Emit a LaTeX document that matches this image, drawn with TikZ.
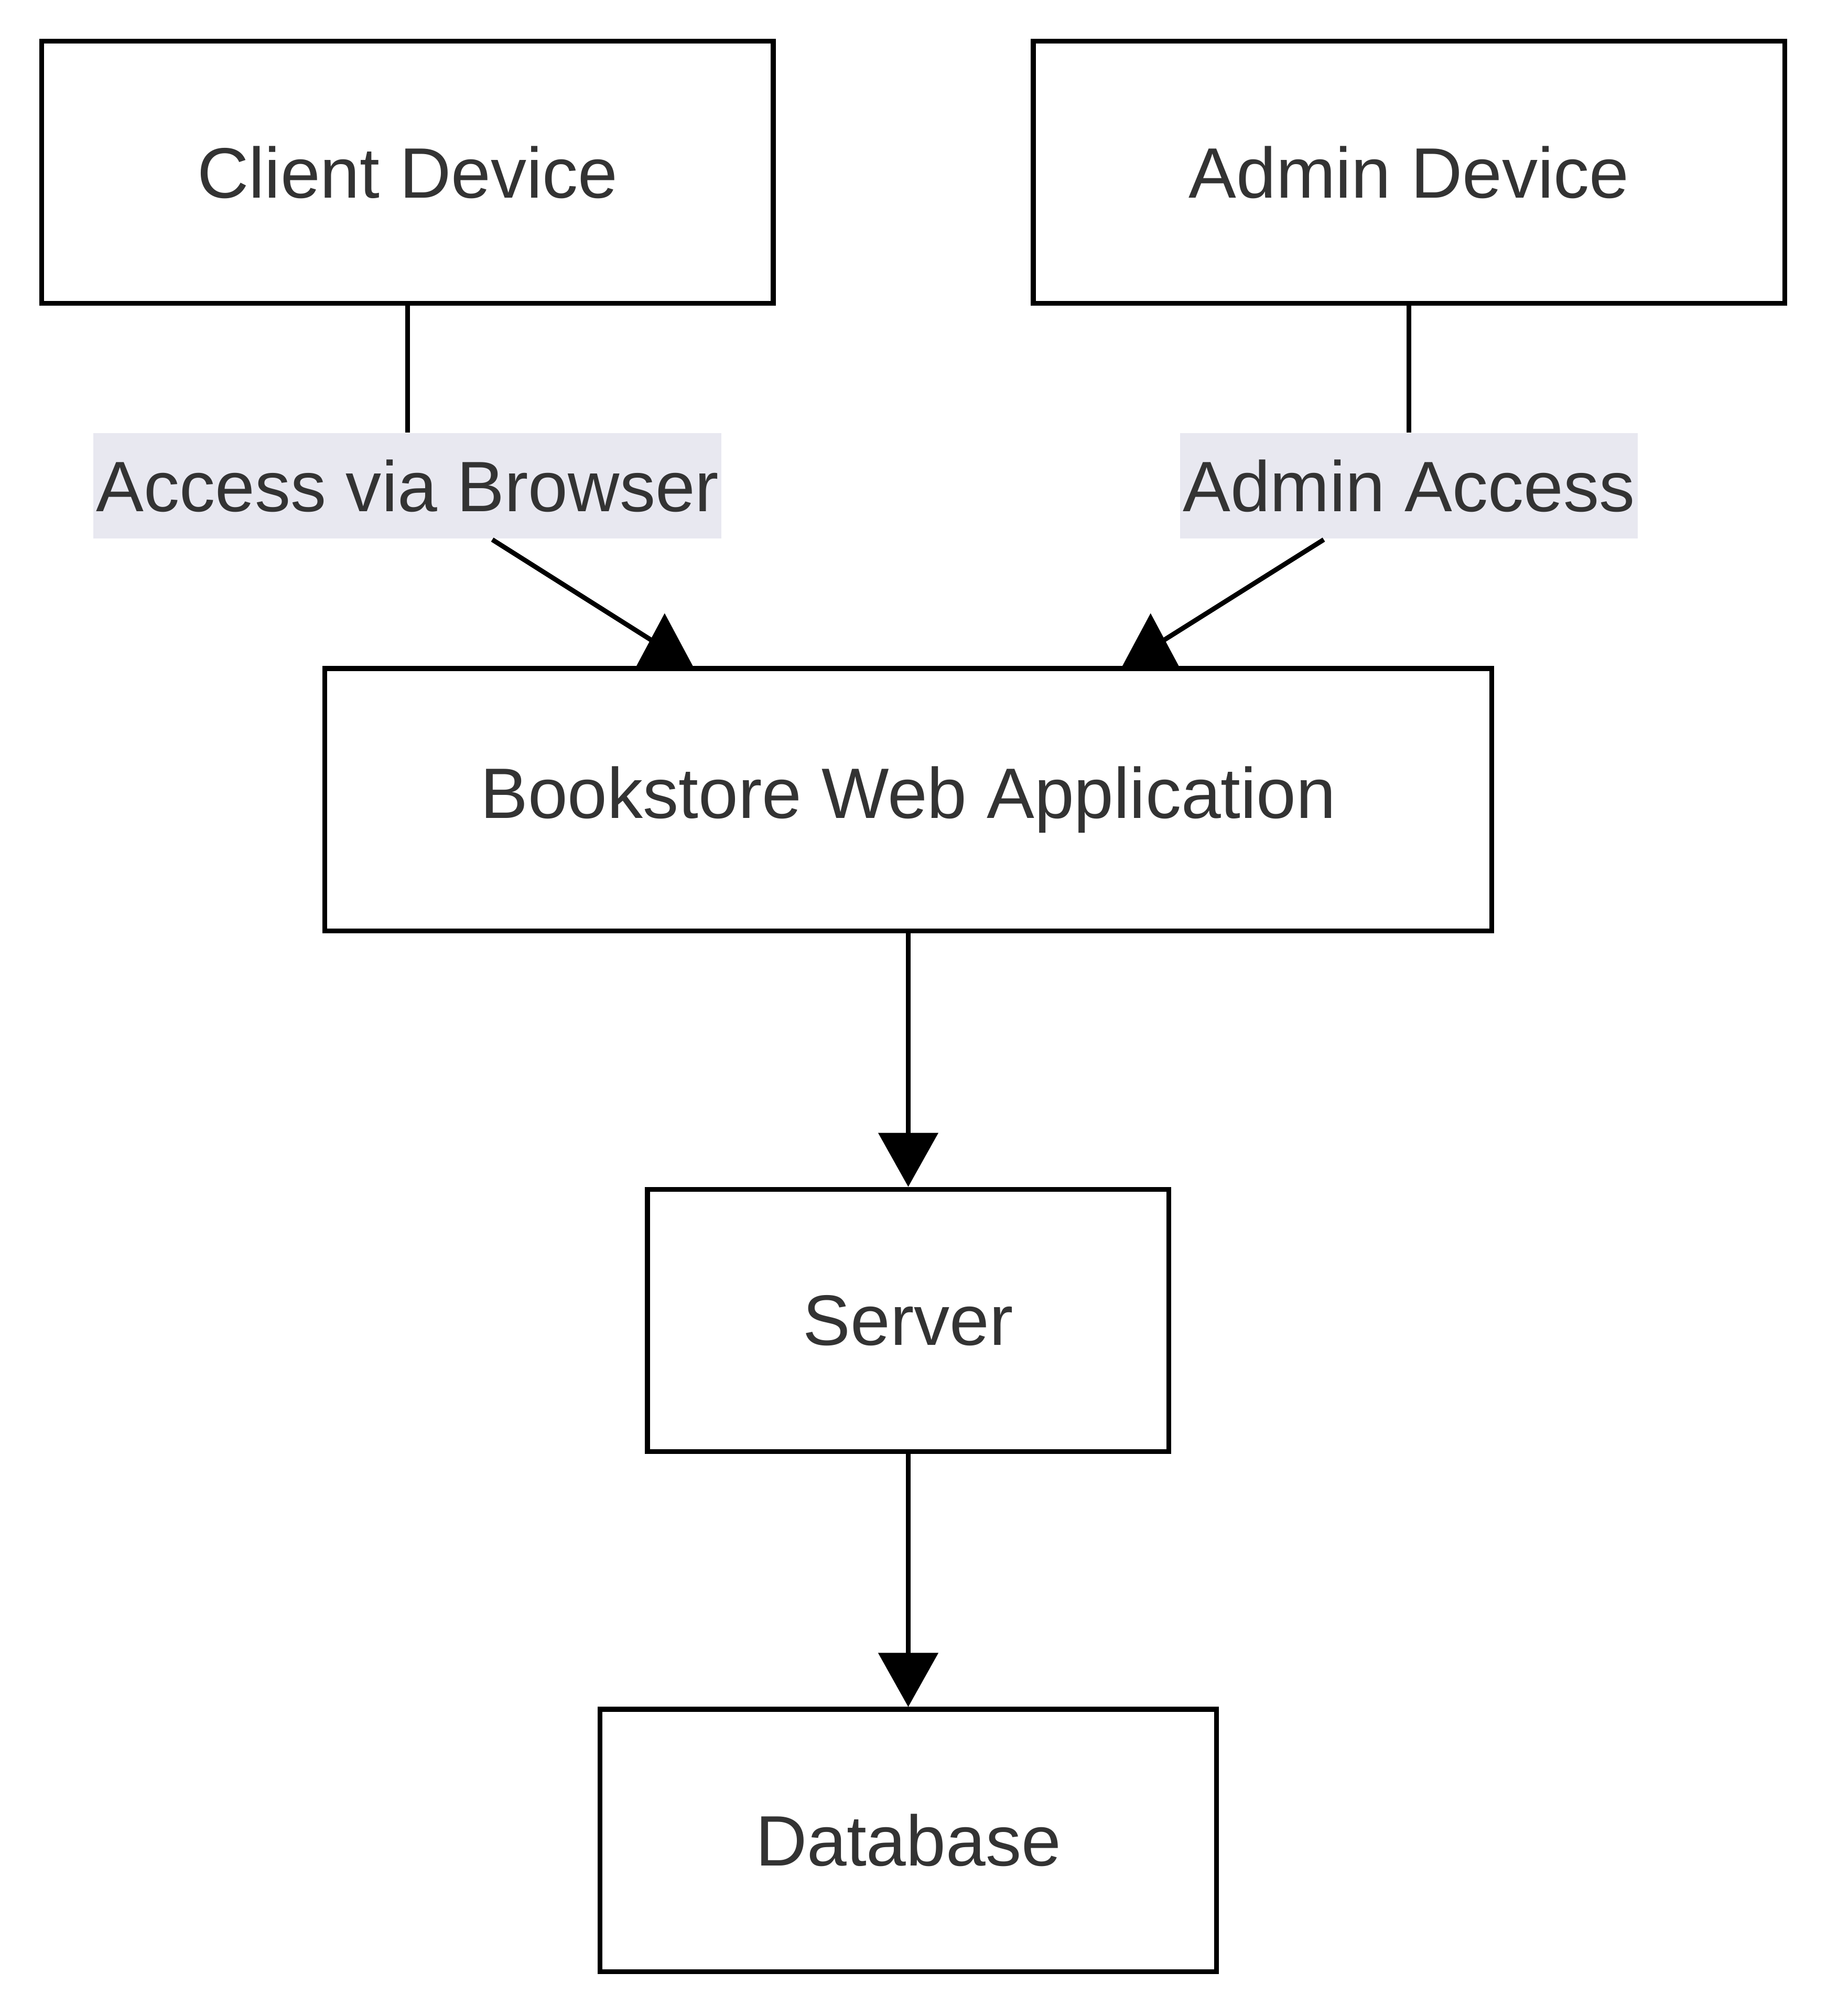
\documentclass[tikz,border=0pt]{standalone}
\usepackage{fontspec}
\setmainfont{Liberation Sans}
\usetikzlibrary{arrows.meta}
\definecolor{txtgray}{HTML}{333333}
\definecolor{lblbg}{RGB}{232,232,240}

\begin{document}
\begin{tikzpicture}[
    box/.style={draw=black, line width=1.1pt, fill=white, text=txtgray,
        minimum height=2.04cm, inner xsep=1.21cm, font=\fontsize{15.8}{19}\selectfont},
    lab/.style={fill=lblbg, text=txtgray, inner xsep=0.02cm, inner ysep=0pt,
        minimum height=0.82cm, font=\fontsize{15.8}{19}\selectfont},
    link/.style={line width=1.05pt},
    arr/.style={link, -{Triangle[length=0.42cm,width=0.46cm]}}]
    \useasboundingbox (0,0) rectangle (14.21,-15.68);

    \node[box] (cd) at (3.17,-1.34) {Client Device};
    \node[box] (ad) at (10.96,-1.34) {Admin Device};
    \node[lab] (acc) at (3.17,-3.78) {Access via Browser};
    \node[lab] (adm) at (10.96,-3.78) {Admin Access};
    \node[box] (bwa) at (7.065,-6.22) {Bookstore Web Application};
    \node[box] (srv) at (7.065,-10.27) {Server};
    \node[box] (db) at (7.065,-14.315) {Database};

    \coordinate (h1) at (5.17,-5.20);
    \coordinate (h2) at (8.95,-5.20);
    \coordinate (e1) at (5.10,-5.00);
    \coordinate (e2) at (9.02,-5.00);

    \draw[link] (cd) -- (acc);
    \draw[link] (acc) -- (e1);
    \draw[link] (ad) -- (adm);
    \draw[link] (adm) -- (e2);
    \fill (h1) ++(-0.23,0) -- ++(0.23,0.43) -- ++(0.23,-0.43) -- cycle;
    \fill (h2) ++(-0.23,0) -- ++(0.23,0.43) -- ++(0.23,-0.43) -- cycle;
    \draw[arr] (bwa) -- (srv);
    \draw[arr] (srv) -- (db);
\end{tikzpicture}
\end{document}
